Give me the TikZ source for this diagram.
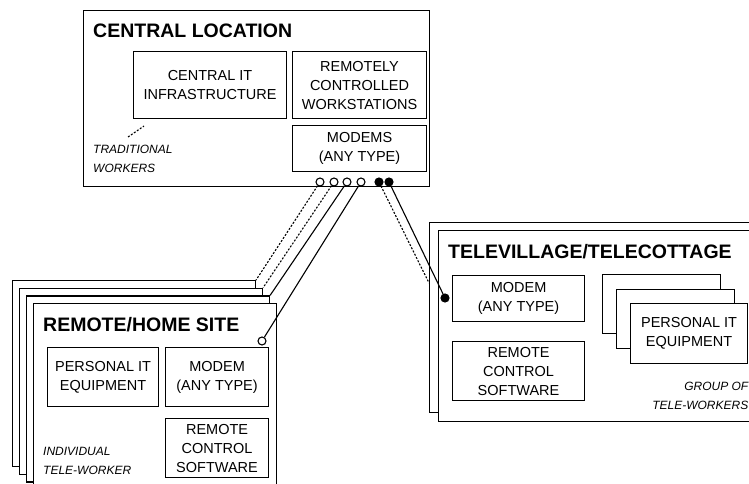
\documentclass[tikz,border=0pt]{standalone}
\usepackage{fontspec}
\setmainfont{Liberation Sans}

\tikzset{
  panel/.style={draw, line width=1.1pt, fill=white, anchor=north west, inner sep=0pt},
  unit/.style={panel, align=center, font=\fontsize{14.5}{19}\selectfont},
  heading/.style={anchor=west, inner sep=0pt, font=\bfseries\fontsize{19.5}{22}\selectfont},
  remark/.style={inner sep=0pt, font=\itshape\fontsize{12}{19}\selectfont},
  port/.style={circle, draw, line width=1.1pt, fill=white, minimum size=8pt, inner sep=0pt},
  jack/.style={port, fill=black},
  link/.style={line width=1.1pt},
  dial/.style={line width=1.1pt, dash pattern=on 2pt off 1.6pt},
}

\begin{document}
\begin{tikzpicture}[x=1pt,y=-1pt]
    \useasboundingbox (0,0) rectangle (749,484);
    \clip (0,0) rectangle (749,484);

    % central location
    \node[panel, minimum width=346pt, minimum height=176pt] (central) at (83,10) {};
    \node[heading] (centraltitle) at (93,31) {CENTRAL LOCATION};
    \node[unit, minimum width=153pt, minimum height=67pt] (infra) at (133,51) {CENTRAL IT\\INFRASTRUCTURE};
    \node[unit, minimum width=134pt, minimum height=67pt] (stations) at (292,51) {REMOTELY\\CONTROLLED\\WORKSTATIONS};
    \node[unit, minimum width=134pt, minimum height=46pt] (modems) at (292,125) {MODEMS\\(ANY TYPE)};
    \node[remark, anchor=west, align=left] (trad) at (93,158.5) {TRADITIONAL\\WORKERS};
    \coordinate (tradA) at (128,137);
    \coordinate (tradB) at (144,126);
    \draw[dial] (tradA) -- (tradB);

    % remote / home sites
    \foreach \i in {0,...,3}
        \node[panel, minimum width=243pt, minimum height=186pt] (home\i) at (12+7*\i, 280+7.7*\i) {};
    \node[heading] (hometitle) at (43,325) {REMOTE/HOME SITE};
    \node[unit, minimum width=111pt, minimum height=59pt] (homepc) at (47,347) {PERSONAL IT\\EQUIPMENT};
    \node[unit, minimum width=103pt, minimum height=59pt] (homemodem) at (165,347) {MODEM\\(ANY TYPE)};
    \node[unit, minimum width=103pt, minimum height=59pt] (homesoft) at (165,418) {REMOTE\\CONTROL\\SOFTWARE};
    \node[remark, anchor=west, align=left] (indiv) at (43,460.5) {INDIVIDUAL\\TELE-WORKER};

    % televillage
    \node[panel, minimum width=340pt, minimum height=190pt] (villback) at (429,222) {};
    \node[panel, minimum width=340pt, minimum height=191pt] (village) at (438,230) {};
    \node[heading] (villtitle) at (448,252) {TELEVILLAGE/TELECOTTAGE};
    \node[unit, minimum width=132pt, minimum height=46pt] (villmodem) at (452,275) {MODEM\\(ANY TYPE)};
    \node[unit, minimum width=132pt, minimum height=59pt] (villsoft) at (452,341) {REMOTE\\CONTROL\\SOFTWARE};
    \foreach \i in {0,1}
        \node[panel, minimum width=118pt, minimum height=59pt] (villpc\i) at (602+14*\i, 274+14.5*\i) {};
    \node[unit, minimum width=117pt, minimum height=60pt] (villpc) at (630,303) {PERSONAL IT\\EQUIPMENT};
    \node[remark, anchor=east, align=right] (group) at (748.5,395.5) {GROUP OF\\TELE-WORKERS};

    % ports and lines
    \foreach \n/\x in {p1/320,p2/334,p3/347,p4/361} {\node[port] (\n) at (\x,182) {};}
    \foreach \n/\x in {q1/379,q2/389} {\node[jack] (\n) at (\x,182) {};}
    \node[port] (homeport) at (262,341) {};
    \node[jack] (villport) at (445,298) {};
    \coordinate (villin) at (429,283);

    \draw[dial] (p1) -- (home0.north east);
    \draw[dial] (p2) -- (home1.north east);
    \draw[link] (p3) -- (home2.north east);
    \draw[link] (p4) -- (homeport);
    \draw[dial] (q1) -- (villin);
    \draw[link] (q2) -- (villport);
\end{tikzpicture}
\end{document}
